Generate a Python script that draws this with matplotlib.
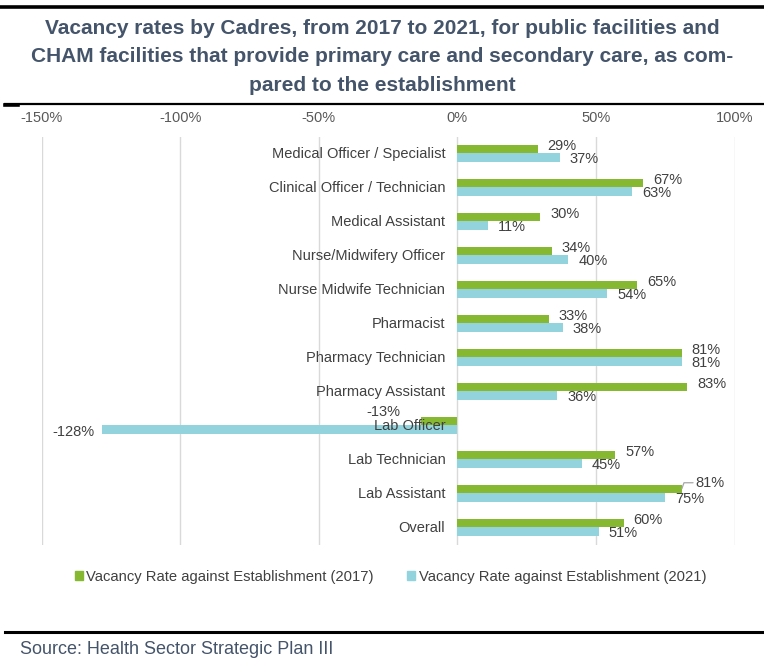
import matplotlib
matplotlib.use("Agg")
import matplotlib.pyplot as plt
from matplotlib.patches import Patch
from matplotlib.lines import Line2D

plt.rcParams['font.family'] = ['Liberation Sans', 'DejaVu Sans']

# ---- data -------------------------------------------------------------
cadres = [
    "Medical Officer / Specialist",
    "Clinical Officer / Technician",
    "Medical Assistant",
    "Nurse/Midwifery Officer",
    "Nurse Midwife Technician",
    "Pharmacist",
    "Pharmacy Technician",
    "Pharmacy Assistant",
    "Lab Officer",
    "Lab Technician",
    "Lab Assistant",
    "Overall",
]
rate_2017 = [0.29, 0.67, 0.30, 0.34, 0.65, 0.33, 0.81, 0.83, -0.13, 0.57, 0.81, 0.60]
rate_2021 = [0.37, 0.63, 0.11, 0.40, 0.54, 0.38, 0.81, 0.36, -1.28, 0.45, 0.75, 0.51]
series_names = ["Vacancy Rate against Establishment (2017)",
                "Vacancy Rate against Establishment (2021)"]
x_ticks = [-1.5, -1.0, -0.5, 0.0, 0.5, 1.0]

# ---- style ------------------------------------------------------------
GREEN = "#86B832"
CYAN = "#92D3DD"
TEXT = "#404040"
TICK = "#595959"
TITLE = "#44546A"
GRID = "#D9D9D9"
PX = 0.72  # points per pixel at 100 dpi

W, H = 764, 660
fig = plt.figure(figsize=(W / 100, H / 100), dpi=100)

left, right = 41.5 / W, 734.5 / W
top, bottom = 1 - 137 / H, 1 - 545 / H
ax = fig.add_axes([left, bottom, right - left, top - bottom])

n = len(cadres)
ys = list(range(n))
bh = 0.25
ax.barh([y - bh / 2 for y in ys], rate_2017, height=bh, color=GREEN, zorder=2)
ax.barh([y + bh / 2 for y in ys], rate_2021, height=bh, color=CYAN, zorder=2)

ax.set_xlim(-1.5, 1.0)
ax.set_ylim(n - 1 + 18 / 34, -16 / 34)
ax.set_xticks(x_ticks)
ax.set_xticklabels([f"{t * 100:.0f}%" for t in x_ticks])
ax.xaxis.tick_top()
ax.tick_params(axis="x", length=0, pad=9, labelsize=10.5, labelcolor=TICK)
ax.set_yticks([])
ax.grid(axis="x", color=GRID, lw=1, zorder=0)
for s in ax.spines.values():
    s.set_visible(False)

# category names just left of the zero line
for y, name in zip(ys, cadres):
    ax.annotate(name, xy=(0, y), xytext=(-12 * PX, -0.5 * PX), textcoords="offset points",
                ha="right", va="center", fontsize=10.5, color=TEXT, zorder=4)

# value labels: (dx, dy) in pixels, dy positive = upward
default_off = {0: (10, 3), 1: (10, -1.5)}
special_off = {
    (0, 8): (-21, 8.5),
    (1, 8): (-8, -2.5),
    (0, 10): (14, 6),
}
for si, vals in enumerate([rate_2017, rate_2021]):
    for y, v in zip(ys, vals):
        yb = y - bh / 2 if si == 0 else y + bh / 2
        dx, dy = special_off.get((si, y), default_off[si])
        ha = "left" if dx > 0 else "right"
        kw = {}
        if (si, y) == (0, 10):
            kw["arrowprops"] = dict(arrowstyle="-", color="#A6A6A6", lw=0.9,
                                    shrinkA=0, shrinkB=0, relpos=(0, 0.5),
                                    connectionstyle="angle,angleA=0,angleB=70")
        ax.annotate(f"{round(v * 100)}%", xy=(v, yb), xytext=(dx * PX, dy * PX),
                    textcoords="offset points", ha=ha, va="center",
                    fontsize=10.5, color=TEXT, zorder=5, **kw)

# legend
handles = [Patch(color=GREEN), Patch(color=CYAN)]
fig.legend(handles, series_names, loc="center", bbox_to_anchor=(390.5 / W, 1 - 577 / H),
           ncol=2, frameon=False, fontsize=10.6, handlelength=0.55, handleheight=0.55,
           handletextpad=0.25, columnspacing=2.25, labelcolor=TEXT)

# title and rules
fig.text(382 / W, 1 - 57 / H,
         "Vacancy rates by Cadres, from 2017 to 2021, for public facilities and\n"
         "CHAM facilities that provide primary care and secondary care, as com-\n"
         "pared to the establishment",
         ha="center", va="center", fontsize=15, fontweight="bold", color=TITLE,
         linespacing=1.62)
fig.add_artist(Line2D([0, 1], [1 - 7 / H] * 2, color="black", lw=2.6))
fig.add_artist(Line2D([5 / W, 1], [1 - 104 / H] * 2, color="black", lw=1.6))
fig.add_artist(Line2D([5 / W, 18 / W], [1 - 105 / H] * 2, color="black", lw=2.6))
fig.add_artist(Line2D([5 / W, 1], [1 - 632 / H] * 2, color="black", lw=2.2))
fig.text(20 / W, 1 - 650 / H, "Source: Health Sector Strategic Plan III",
         ha="left", va="center", fontsize=13, color=TITLE)

fig.savefig("out.png", dpi=100, facecolor="white")
